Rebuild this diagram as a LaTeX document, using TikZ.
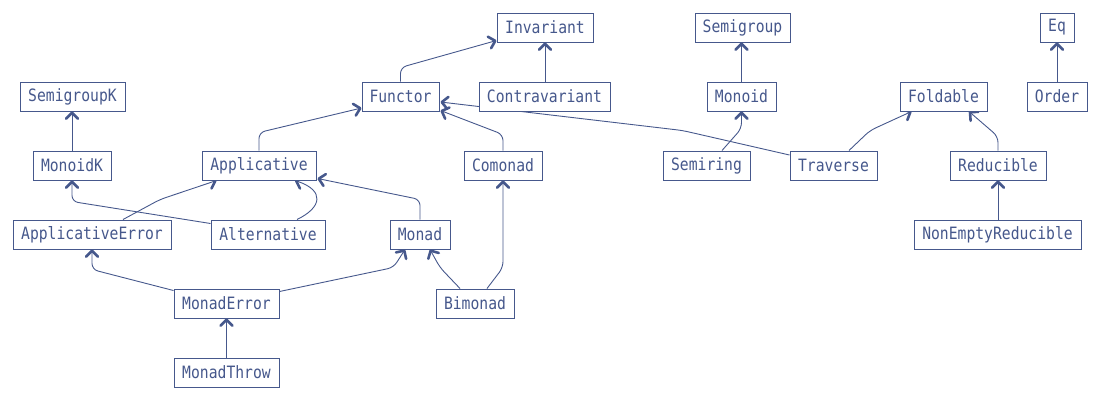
\documentclass[tikz,border=0pt]{standalone}
\usepackage{fontspec}
\newfontfamily\diagfont[FakeStretch=0.865]{DejaVu Sans Mono}
\usetikzlibrary{arrows.meta,backgrounds}
\definecolor{ink}{RGB}{70,88,140}
\begin{document}
\begin{tikzpicture}[x=1pt,y=-1pt,
  cls/.style={draw=ink, fill=white, line width=1pt, text=ink,
    font=\diagfont\fontsize{17}{19}\selectfont, minimum height=29pt,
    inner sep=0pt, anchor=center},
  edge/.style={draw=ink, line width=0.9pt, rounded corners=6pt,
    -{Straight Barb[length=6pt,width=12pt,line width=2.6pt,round]}}]
\useasboundingbox (0,0) rectangle (1099,400);
% row 1
\node[cls, minimum width=96pt]  (Invariant)  at (545,27.5)   {Invariant};
\node[cls, minimum width=95pt]  (Semigroup)  at (742.5,27.5) {Semigroup};
\node[cls, minimum width=34pt]  (Eq)         at (1057,27.5)  {Eq};
% row 2
\node[cls, minimum width=105pt] (SemigroupK) at (72.5,96.5)  {SemigroupK};
\node[cls, minimum width=77pt]  (Functor)    at (400.5,96.5) {Functor};
\node[cls, minimum width=131pt] (Contravariant) at (544.5,96.5) {Contravariant};
\node[cls, minimum width=69pt]  (Monoid)     at (741.5,96.5) {Monoid};
\node[cls, minimum width=87pt]  (Foldable)   at (943.5,96.5) {Foldable};
\node[cls, minimum width=60pt]  (Order)      at (1057,96.5)  {Order};
% row 3
\node[cls, minimum width=78pt]  (MonoidK)    at (72,165.5)   {MonoidK};
\node[cls, minimum width=114pt] (Applicative) at (259,165.5) {Applicative};
\node[cls, minimum width=78pt]  (Comonad)    at (503,165.5)  {Comonad};
\node[cls, minimum width=87pt]  (Semiring)   at (706.5,165.5) {Semiring};
\node[cls, minimum width=87pt]  (Traverse)   at (833.5,165.5) {Traverse};
\node[cls, minimum width=96pt]  (Reducible)  at (998,165.5)  {Reducible};
% row 4
\node[cls, minimum width=158pt] (ApplicativeError) at (92,234.5) {ApplicativeError};
\node[cls, minimum width=114pt] (Alternative) at (268,234.5) {Alternative};
\node[cls, minimum width=60pt]  (Monad)      at (420,234.5)  {Monad};
\node[cls, minimum width=167pt] (NonEmptyReducible) at (997.5,234.5) {NonEmptyReducible};
% row 5
\node[cls, minimum width=105pt] (MonadError) at (226.5,303.5) {MonadError};
\node[cls, minimum width=78pt]  (Bimonad)    at (475,303.5)  {Bimonad};
% row 6
\node[cls, minimum width=105pt] (MonadThrow) at (226.5,372.5) {MonadThrow};

\begin{scope}[on background layer]
\draw[edge] (Functor.north) -- ++(0,-14) -- ([yshift=2pt]Invariant.south west);
\draw[edge] (Contravariant.north -| Invariant.south) -- (Invariant.south);
\draw[edge] (Monoid.north) -- (Monoid.north |- Semigroup.south);
\draw[edge] (Order.north) -- (Eq.south);
\draw[edge] (MonoidK.north) -- (MonoidK.north |- SemigroupK.south);
\draw[edge] (Applicative.north) -- ++(0,-18) -- ([yshift=3.5pt]Functor.south west);
\draw[edge] (Comonad.north) -- ++(0,-16) -- ([yshift=1pt,xshift=1pt]Functor.south east);
\draw[edge] ([yshift=-4.5pt]Traverse.north west) -- ++(-107,-24.5) -- ([yshift=-5.5pt,xshift=1pt]Functor.east);
\draw[edge] ([xshift=15.5pt]Semiring.north) -- ([yshift=-17pt]Monoid.south) -- (Monoid.south);
\draw[edge] ([xshift=15.5pt]Traverse.north) -- ++(21,-20) -- ([xshift=-32pt]Foldable.south);
\draw[edge] (Reducible.north) -- ++(0,-14) -- ([xshift=25.5pt]Foldable.south);
\draw[edge] (Reducible.south |- NonEmptyReducible.north) -- (Reducible.south);
\draw[edge] ([xshift=31pt]ApplicativeError.north) -- ++(37,-20) -- ([xshift=15pt]Applicative.south west);
\draw[edge] ([yshift=-4pt]Alternative.north west) -- ([yshift=-21pt]MonoidK.south) -- (MonoidK.south);
\draw[edge] ([xshift=29pt]Alternative.north) .. controls +(25,-12) and +(30,10) .. ([xshift=36pt]Applicative.south);
\draw[edge] (Monad.north) -- ++(0,-20) -- ([yshift=2pt,xshift=1pt]Applicative.south east);
\draw[edge] ([yshift=-2pt]MonadError.north west) -- ([yshift=-20pt]ApplicativeError.south) -- (ApplicativeError.south);
\draw[edge] ([yshift=-3pt]MonadError.north east) -- ++(114,-24) -- ([xshift=-15pt]Monad.south);
\draw[edge] ([xshift=-15pt]Bimonad.north) -- ++(-20,-21) -- ([xshift=10pt]Monad.south);
\draw[edge] ([xshift=12pt]Bimonad.north) -- ++(16,-21) -- (Comonad.south);
\draw[edge] (MonadThrow.north) -- (MonadError.south);
\end{scope}
\end{tikzpicture}
\end{document}
